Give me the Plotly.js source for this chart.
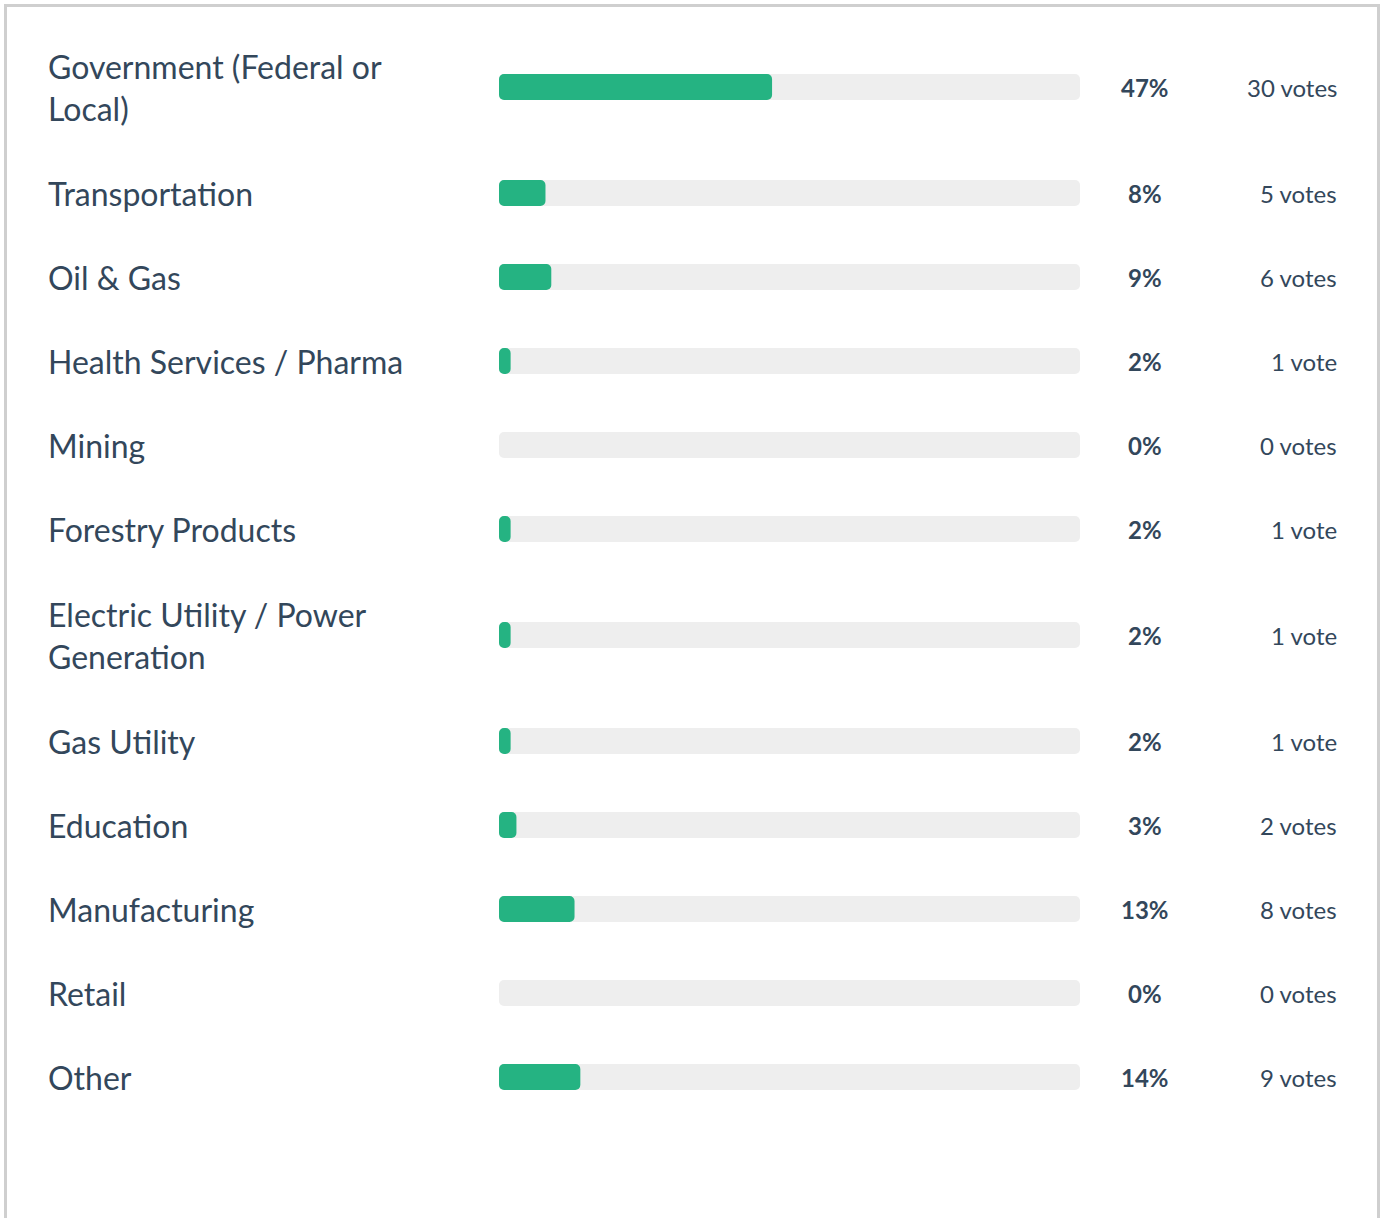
<!DOCTYPE html>
<html>
<head>
<meta charset="utf-8">
<script src="https://cdn.plot.ly/plotly-3.0.1.min.js"></script>
<style>html,body{margin:0;padding:0;background:#fff;}#chart{width:1380px;height:1218px;}</style>
</head>
<body>
<div id="chart"></div>
<script>
// ---- data ----
const categories = [
  "Government (Federal or<br>Local)",
  "Transportation",
  "Oil & Gas",
  "Health Services / Pharma",
  "Mining",
  "Forestry Products",
  "Electric Utility / Power<br>Generation",
  "Gas Utility",
  "Education",
  "Manufacturing",
  "Retail",
  "Other"
];
const percents = [47, 8, 9, 2, 0, 2, 2, 2, 3, 13, 0, 14];
const votes = [30, 5, 6, 1, 0, 1, 1, 1, 2, 8, 0, 9];
const voteLabels = ["30 votes","5 votes","6 votes","1 vote","0 votes","1 vote","1 vote","1 vote","2 votes","8 votes","0 votes","9 votes"];

// ---- layout helpers ----
const W = 1380, H = 1218;
const TXT = "#33475b";
const FONT = "Lato, 'Open Sans', sans-serif";
const ROW = 84, LINE = 44, START = 23;
const ypos = [];
let acc = START;
categories.forEach(c => {
  const lines = c.split("<br>").length;
  const h = ROW + LINE * (lines - 1);
  ypos.push(acc + h / 2);
  acc += h;
});
const px = x => x / W;

const track = {
  type: "bar", orientation: "h",
  x: categories.map(() => 100), y: ypos, base: categories.map(() => 0),
  width: 26,
  marker: {color: "#eeeeee", line: {width: 0}},
  hoverinfo: "skip"
};
const fill = {
  type: "bar", orientation: "h",
  x: percents, y: ypos, base: percents.map(() => 0),
  width: 26,
  marker: {color: "#25b382", line: {width: 0}},
  hoverinfo: "skip"
};

const annotations = [];
categories.forEach((c, i) => {
  annotations.push({
    xref: "paper", yref: "y", x: px(46), y: ypos[i],
    xanchor: "left", yanchor: "middle", align: "left",
    text: c, showarrow: false,
    font: {family: FONT, size: 32, color: TXT}
  });
  annotations.push({
    xref: "paper", yref: "y", x: px(1145), y: ypos[i],
    xanchor: "center", yanchor: "middle",
    text: percents[i] + "%", showarrow: false,
    font: {family: FONT, size: 24, color: TXT, weight: 700}
  });
  annotations.push({
    xref: "paper", yref: "y", x: px(1339), y: ypos[i],
    xanchor: "right", yanchor: "middle",
    text: voteLabels[i], showarrow: false,
    font: {family: FONT, size: 24, color: TXT}
  });
});

const layout = {
  width: W, height: H,
  margin: {l: 0, r: 0, t: 0, b: 0, pad: 0},
  paper_bgcolor: "#ffffff", plot_bgcolor: "rgba(0,0,0,0)",
  showlegend: false,
  barmode: "overlay",
  barcornerradius: 5,
  xaxis: {domain: [px(499), px(1080)], range: [0, 100], visible: false, fixedrange: true},
  yaxis: {domain: [0, 1], range: [H, 0], visible: false, fixedrange: true},
  annotations: annotations,
  shapes: [{
    type: "rect", xref: "paper", yref: "paper",
    x0: px(5.5), x1: px(1378.5), y0: -0.05, y1: 1 - 5.5 / H,
    line: {color: "#cfcfcf", width: 3}, fillcolor: "rgba(0,0,0,0)", layer: "above"
  }]
};

Plotly.newPlot("chart", [track, fill], layout, {staticPlot: true, displayModeBar: false});
</script>
</body>
</html>
